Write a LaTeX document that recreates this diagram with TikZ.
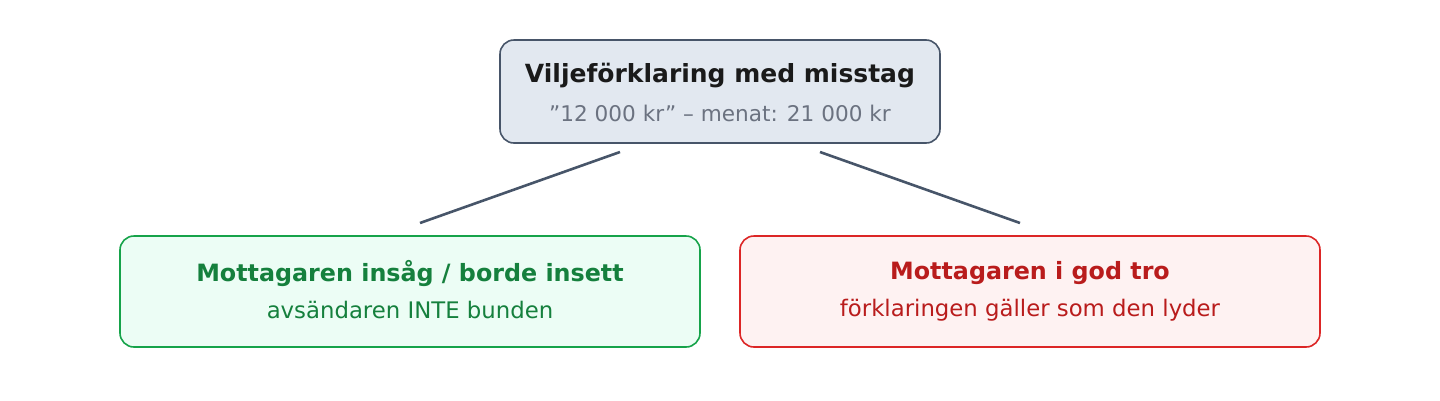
\documentclass[tikz,border=0pt]{standalone}
\usepackage{fontspec}
\setmainfont{DejaVu Sans}
\definecolor{slate}{HTML}{475569}
\definecolor{slatefill}{HTML}{E2E8F0}
\definecolor{ink}{HTML}{1A1A1A}
\definecolor{muted}{HTML}{6B7280}
\definecolor{grn}{HTML}{16A34A}
\definecolor{grnfill}{HTML}{ECFDF5}
\definecolor{grntext}{HTML}{15803D}
\definecolor{rd}{HTML}{DC2626}
\definecolor{rdfill}{HTML}{FEF2F2}
\definecolor{rdtext}{HTML}{B91C1C}
\tikzset{
  box/.style={draw, rounded corners=14pt, line width=1.6pt, inner sep=0pt},
  titletext/.style={font=\fontsize{23.8}{28}\selectfont\bfseries, inner sep=0pt},
  subtext/.style={font=\fontsize{22.8}{26}\selectfont, inner sep=0pt},
  link/.style={draw=slate, line width=2.6pt}
}
\begin{document}
\begin{tikzpicture}[x=1pt,y=-1pt]
\useasboundingbox (0,0) rectangle (1440,400);
% top box
\node[box, draw=slate, fill=slatefill, minimum width=440pt, minimum height=103pt] (top) at (720,91.5) {};
\node[titletext, text=ink, font=\fontsize{25}{29}\selectfont\bfseries] (toptitle) at (720,76) {Viljeförklaring med misstag};
\node[subtext, text=muted, font=\fontsize{21.6}{25}\selectfont] (topsub) at (720,113) {”12 000 kr” – menat: 21 000 kr};
% bottom boxes
\node[box, draw=grn, fill=grnfill, minimum width=580pt, minimum height=111pt] (left) at (410,291.5) {};
\node[titletext, text=grntext] (lefttitle) at (410,273) {Mottagaren insåg / borde insett};
\node[subtext, text=grntext] (leftsub) at (410,310) {avsändaren INTE bunden};
\node[box, draw=rd, fill=rdfill, minimum width=580pt, minimum height=111pt] (right) at (1030,291.5) {};
\node[titletext, text=rdtext] (righttitle) at (1030,273) {Mottagaren i god tro};
\node[subtext, text=rdtext] (rightsub) at (1030,310) {förklaringen gäller som den lyder};
% connectors
\coordinate (topl) at (620,152);
\coordinate (topr) at (820,152);
\coordinate (botl) at (420,223);
\coordinate (botr) at (1020,223);
\draw[link] (topl) -- (botl);
\draw[link] (topr) -- (botr);
\end{tikzpicture}
\end{document}
